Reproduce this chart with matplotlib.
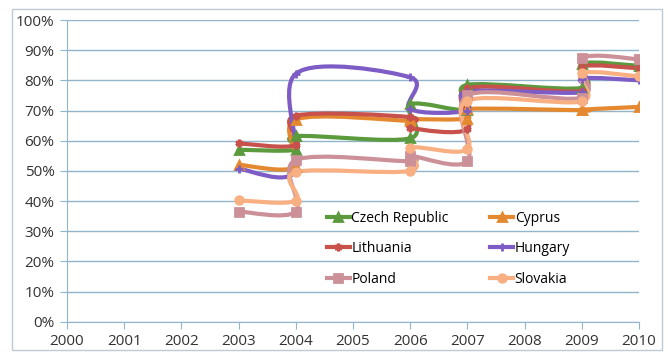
import numpy as np
import matplotlib.pyplot as plt
from matplotlib.path import Path
from matplotlib.patches import PathPatch, Rectangle
from matplotlib.lines import Line2D
from matplotlib.ticker import MultipleLocator, FuncFormatter

# each change of level is stored as a second point in the same year
years = [2003, 2004, 2004, 2006, 2006, 2007, 2007, 2009, 2009, 2010]

czech = [57, 57, 61.5, 60.8, 72, 70.3, 78.5, 77.5, 85.5, 84.8]
cyprus = [52, 51.4, 67, 66.6, 67.1, 67.3, 70.5, 70.1, 70.3, 71.2]
lithuania = [59.1, 58.6, 68.3, 67.8, 64.3, 63.8, 77.3, 76.5, 84.5, 84]
hungary = [50.7, 50, 82.2, 81, 70.5, 70, 76.3, 76, 80.6, 80]
poland = [36.5, 36.5, 53.6, 53.2, 55, 53.2, 75, 74.3, 87.3, 87]
slovakia = [40.2, 40.1, 49.6, 50, 57.6, 57.2, 73.3, 73, 82.3, 81.3]

names = ['Czech Republic', 'Cyprus', 'Lithuania', 'Hungary', 'Poland', 'Slovakia']
series = [czech, cyprus, lithuania, hungary, poland, slovakia]
colors = ['#5c9a3e', '#e4892f', '#c8514c', '#7d5cc6', '#cc9099', '#f8b083']
markers = ['^', '^', (6, 2, 0), '+', 's', 'o']

plt.rcParams['font.family'] = ['Open Sans', 'DejaVu Sans']


def smooth_path(xs, ys):
    # bezier through every point, tangents taken from the neighbours (1/6 rule)
    pts = np.column_stack([xs, ys]).astype(float)
    n = len(pts)
    verts = [pts[0]]
    codes = [Path.MOVETO]
    for i in range(n - 1):
        p_prev = pts[max(i - 1, 0)]
        p_next = pts[min(i + 2, n - 1)]
        c1 = pts[i] + (pts[i + 1] - p_prev) / 6
        c2 = pts[i + 1] - (p_next - pts[i]) / 6
        verts += [c1, c2, pts[i + 1]]
        codes += [Path.CURVE4] * 3
    return Path(verts, codes)


fig = plt.figure(figsize=(6.68, 3.53), dpi=100)
ax = fig.add_axes([0.1003, 0.0887, 0.8563, 0.8546])

grid_col = '#91b5ca'
for name, vals, col, mk in zip(names, series, colors, markers):
    ax.add_patch(PathPatch(smooth_path(years, vals), fill=False, edgecolor=col,
                           lw=3, capstyle='round', joinstyle='round'))
    ax.plot(years, vals, ls='none', marker=mk, color=col, ms=5.5, mew=2)

ax.set_xlim(2000, 2010)
ax.set_ylim(0, 100)
ax.xaxis.set_major_locator(MultipleLocator(1))
ax.yaxis.set_major_locator(MultipleLocator(10))
ax.yaxis.set_major_formatter(FuncFormatter(lambda v, p: f'{v:.0f}%'))
ax.grid(axis='y', color=grid_col, lw=1)
ax.set_axisbelow(True)
for side in ['top', 'right']:
    ax.spines[side].set_visible(False)
for side in ['left', 'bottom']:
    ax.spines[side].set_color(grid_col)
ax.tick_params(axis='both', colors=grid_col, labelcolor='#333333', labelsize=11, length=5)
ax.tick_params(axis='y', pad=4)
ax.tick_params(axis='x', pad=4)

handles = [Line2D([], [], color=c, lw=3, marker=m, ms=5.5, mew=2) for c, m in zip(colors, markers)]
order = [0, 2, 4, 1, 3, 5]
ax.legend([handles[i] for i in order], [names[i] for i in order], ncol=2, frameon=False,
          loc='upper left', bbox_to_anchor=(327 / 668, 1 - 211 / 353), bbox_transform=fig.transFigure,
          borderaxespad=0, borderpad=0, fontsize=10,
          handlelength=1.65, handletextpad=0.1, columnspacing=3.0, labelspacing=1.1)

fig.patches.append(Rectangle((12 / 668, 3 / 353), 650 / 668, 341 / 353, transform=fig.transFigure,
                             fill=False, edgecolor='#bccbd6', lw=1))

fig.savefig('out.png', dpi=100)
